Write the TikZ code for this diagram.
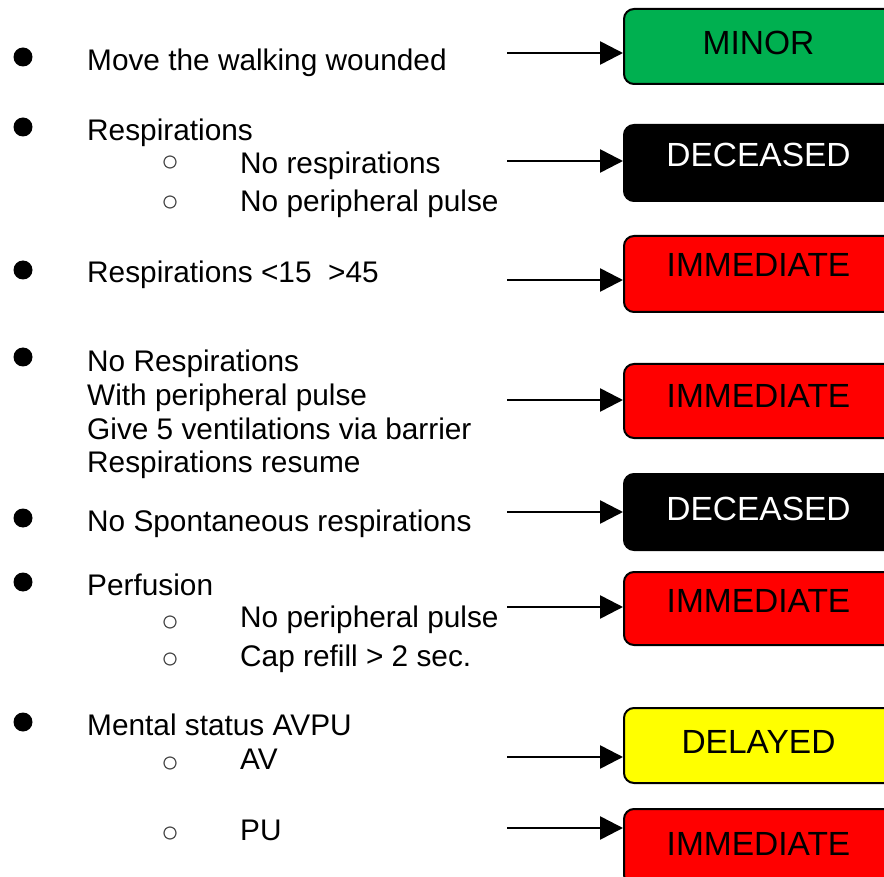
\documentclass[tikz,border=0pt]{standalone}
\usepackage{fontspec}
\setmainfont{Liberation Sans}
\usetikzlibrary{arrows.meta}
\definecolor{mgreen}{HTML}{00B050}
\definecolor{mred}{HTML}{FF0000}
\definecolor{myellow}{HTML}{FFFF00}
\begin{document}
\begin{tikzpicture}[x=1pt,y=-1pt,
  txt/.style={anchor=base west,inner sep=0pt,font=\fontsize{29.8}{35}\selectfont},
  catbox/.style={draw=black,line width=2pt,rounded corners=10pt,anchor=north west,minimum width=271pt,inner sep=0pt},
  lab/.style={anchor=base,inner sep=0pt,font=\fontsize{33.5}{40}\selectfont},
  arr/.style={line width=2.6pt,-{Triangle[length=23pt,width=23pt]}},
  dot/.style={circle,fill=black,inner sep=0pt,minimum size=19pt},
  subdot/.style={circle,draw=black!70,line width=1.2pt,inner sep=0pt,minimum size=12pt}]
\clip (0,0) rectangle (884,877);
\fill[white] (0,0) rectangle (884,877);

% left texts
\node[txt] (t1) at (87,71) {Move the walking wounded};
\node[txt] (t2) at (87,141) {Respirations};
\node[txt] (t3) at (240,174) {No respirations};
\node[txt] (t4) at (240,212) {No peripheral pulse};
\node[txt] (t5) at (87,283) {Respirations <15\ \ >45};
\node[txt] (t6) at (87,372) {No Respirations};
\node[txt] (t7) at (87,406) {With peripheral pulse};
\node[txt] (t8) at (87,439) {Give 5 ventilations via barrier};
\node[txt] (t9) at (87,472) {Respirations resume};
\node[txt] (t10) at (87,531) {No Spontaneous respirations};
\node[txt] (t11) at (87,595) {Perfusion};
\node[txt] (t12) at (240,627) {No peripheral pulse};
\node[txt] (t13) at (240,666) {Cap refill > 2 sec.};
\node[txt] (t14) at (87,735) {Mental status AVPU};
\node[txt] (t15) at (240,769) {AV};
\node[txt] (t16) at (240,840) {PU};

% bullets
\node[dot] (d1) at (23,57) {};
\node[dot] (d2) at (23,127) {};
\node[dot] (d3) at (23,270) {};
\node[dot] (d4) at (23,357) {};
\node[dot] (d5) at (23,518) {};
\node[dot] (d6) at (23,582) {};
\node[dot] (d7) at (23,722) {};
\node[subdot] (o1) at (170,162) {};
\node[subdot] (o2) at (170,202) {};
\node[subdot] (o3) at (170,622) {};
\node[subdot] (o4) at (170,659) {};
\node[subdot] (o5) at (170,763) {};
\node[subdot] (o6) at (170,833) {};

% category boxes
\node[catbox,fill=mgreen,minimum height=75pt] (b1) at (623,8) {};
\node[catbox,fill=black,minimum height=76pt] (b2) at (623,124) {};
\node[catbox,fill=mred,minimum height=76pt] (b3) at (623,235) {};
\node[catbox,fill=mred,minimum height=74pt] (b4) at (623,363) {};
\node[catbox,fill=black,minimum height=76pt] (b5) at (623,473) {};
\node[catbox,fill=mred,minimum height=73pt] (b6) at (623,571) {};
\node[catbox,fill=myellow,minimum height=75pt] (b7) at (623,707) {};
\node[catbox,fill=mred,minimum height=76pt] (b8) at (623,808) {};

\node[lab] (l1) at (758.5,55) {MINOR};
\node[lab,text=white] (l2) at (758.5,167) {DECEASED};
\node[lab] (l3) at (758.5,277) {IMMEDIATE};
\node[lab] (l4) at (758.5,407) {IMMEDIATE};
\node[lab,text=white] (l5) at (758.5,520) {DECEASED};
\node[lab] (l6) at (758.5,612) {IMMEDIATE};
\node[lab] (l7) at (758.5,753) {DELAYED};
\node[lab] (l8) at (758.5,855) {IMMEDIATE};

% arrows
\coordinate (s1) at (507,53);
\coordinate (s2) at (507,161);
\coordinate (s3) at (507,280);
\coordinate (s4) at (507,400);
\coordinate (s5) at (507,512);
\coordinate (s6) at (507,607);
\coordinate (s7) at (507,757);
\coordinate (s8) at (507,828);
\draw[arr] (s1) -- (s1 -| b1.west);
\draw[arr] (s2) -- (s2 -| b2.west);
\draw[arr] (s3) -- (s3 -| b3.west);
\draw[arr] (s4) -- (s4 -| b4.west);
\draw[arr] (s5) -- (s5 -| b5.west);
\draw[arr] (s6) -- (s6 -| b6.west);
\draw[arr] (s7) -- (s7 -| b7.west);
\draw[arr] (s8) -- (s8 -| b8.west);
\end{tikzpicture}
\end{document}
